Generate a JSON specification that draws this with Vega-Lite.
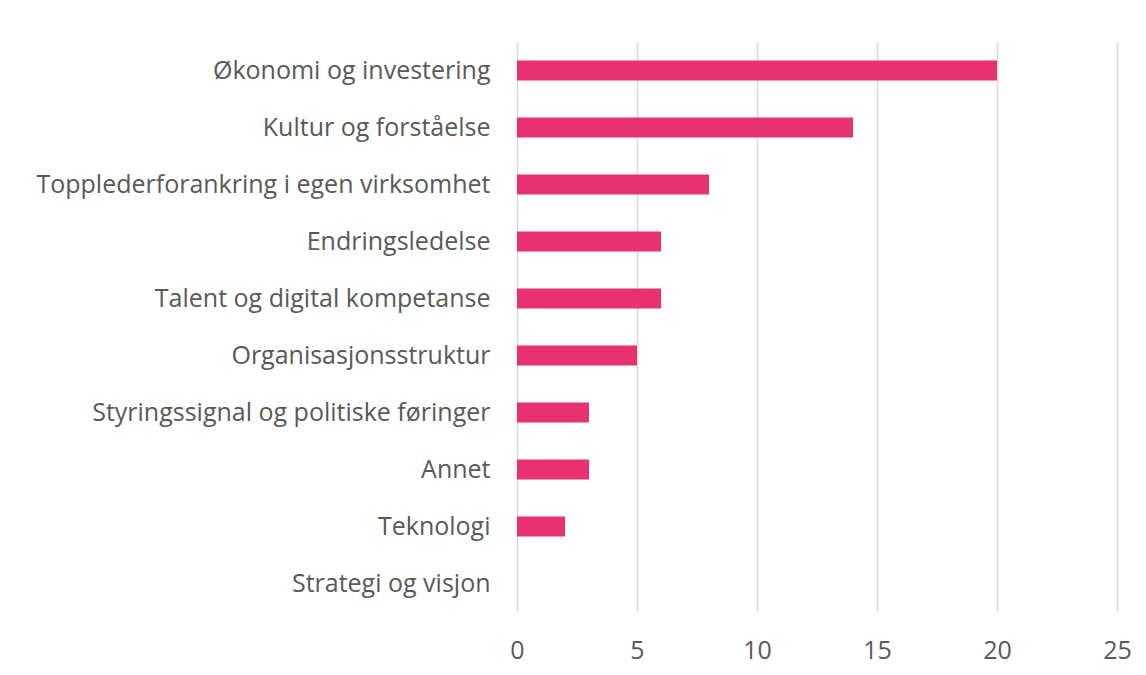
{
  "$schema": "https://vega.github.io/schema/vega-lite/v6.json",
  "autosize": {"type": "none"},
  "width": 600,
  "height": 570,
  "padding": {"left": 517, "top": 42, "right": 29, "bottom": 63},
  "background": "white",
  "config": {
    "view": {"stroke": null},
    "font": "Open Sans"
  },
  "data": {
    "values": [
      {"kategori": "Økonomi og investering", "antall": 20},
      {"kategori": "Kultur og forståelse", "antall": 14},
      {"kategori": "Topplederforankring i egen virksomhet", "antall": 8},
      {"kategori": "Endringsledelse", "antall": 6},
      {"kategori": "Talent og digital kompetanse", "antall": 6},
      {"kategori": "Organisasjonsstruktur", "antall": 5},
      {"kategori": "Styringssignal og politiske føringer", "antall": 3},
      {"kategori": "Annet", "antall": 3},
      {"kategori": "Teknologi", "antall": 2},
      {"kategori": "Strategi og visjon", "antall": 0}
    ]
  },
  "mark": {"type": "bar", "color": "#E83171"},
  "encoding": {
    "y": {
      "field": "kategori",
      "type": "nominal",
      "sort": null,
      "scale": {"paddingInner": 0.65, "paddingOuter": 0.325},
      "axis": {
        "title": null,
        "domain": false,
        "ticks": false,
        "labelPadding": 27,
        "labelFontSize": 25,
        "labelColor": "#595959",
        "labelLimit": 600
      }
    },
    "x": {
      "field": "antall",
      "type": "quantitative",
      "scale": {"domain": [0, 25]},
      "axis": {
        "title": null,
        "values": [0, 5, 10, 15, 20, 25],
        "domain": false,
        "ticks": false,
        "grid": true,
        "gridColor": "#D9D9D9",
        "gridWidth": 1.5,
        "labelPadding": 26,
        "labelFontSize": 25,
        "labelFlush": false,
        "labelColor": "#595959",
        "labelBaseline": "top"
      }
    }
  }
}
